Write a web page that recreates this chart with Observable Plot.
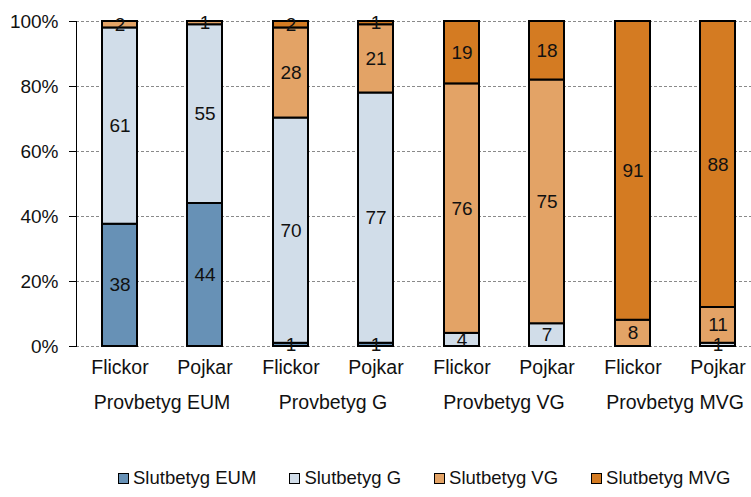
<!DOCTYPE html>
<html>
<head>
<meta charset="utf-8">
<script src="https://cdn.jsdelivr.net/npm/d3@7"></script>
<script src="https://cdn.jsdelivr.net/npm/@observablehq/plot@0.6"></script>
<style>
  html, body { margin: 0; padding: 0; background: #fff; overflow: hidden; }
  #wrap { position: relative; width: 751px; height: 497px; font-family: "Liberation Sans", Arial, sans-serif; }
  #legend { position: absolute; top: 467px; left: 118px; display: flex; gap: 33px; font-size: 18.5px; color: #111; }
  .item { display: flex; align-items: center; gap: 4px; white-space: nowrap; }
  .sw { width: 9px; height: 9px; border: 1.5px solid #000; }
</style>
</head>
<body>
<div id="wrap"><div id="chart"></div><div id="legend"></div></div>
<script>
const groups = ["Provbetyg EUM", "Provbetyg G", "Provbetyg VG", "Provbetyg MVG"];
const sexes = ["Flickor", "Pojkar"];
const series = ["Slutbetyg EUM", "Slutbetyg G", "Slutbetyg VG", "Slutbetyg MVG"];
const colors = ["#6791B6", "#D1DDE9", "#E3A366", "#D47B22"];
// values per bar, in order: EUM-F, EUM-P, G-F, G-P, VG-F, VG-P, MVG-F, MVG-P
const slutEUM = [38, 44, 1, 1, 0, 0, 0, 0];
const slutG   = [61, 55, 70, 77, 4, 7, 0, 1];
const slutVG  = [2, 1, 28, 21, 76, 75, 8, 11];
const slutMVG = [0, 0, 2, 1, 19, 18, 91, 88];
const yTicks = [0, 0.2, 0.4, 0.6, 0.8, 1];

const seriesValues = [slutEUM, slutG, slutVG, slutMVG];
const data = [];
groups.forEach((grp, gi) => sexes.forEach((sex, si) => {
  const idx = gi * 2 + si;
  series.forEach((s, k) => {
    const v = seriesValues[k][idx];
    if (v > 0) data.push({group: grp, sex, series: s, value: v});
  });
}));

const stackOpts = {fx: "group", x: "sex", y: "value", z: "series", offset: "normalize", order: series};

const chart = Plot.plot({
  width: 751,
  height: 432,
  marginLeft: 75,
  marginRight: -9.6,
  marginTop: 21,
  marginBottom: 86,
  style: {fontFamily: "'Liberation Sans', Arial, sans-serif", fontSize: "19px", color: "#111", background: "#fff", overflow: "visible"},
  fx: {domain: groups, padding: 0, axis: null, label: null},
  x: {domain: sexes, paddingInner: 0.59, paddingOuter: 0.295, label: null, axis: null},
  y: {domain: [0, 1], label: null, axis: null},
  color: {domain: series, range: colors},
  marks: [
    Plot.gridY(yTicks, {stroke: "#8a8a8a", strokeOpacity: 1, strokeDasharray: "3,2", strokeWidth: 1}),
    Plot.barY(data, Plot.stackY({...stackOpts, fill: "series", stroke: "#000", strokeWidth: 2})),
    Plot.text(data, Plot.stackY({...stackOpts, text: "value", fontSize: 19, fill: "#111"})),
    Plot.axisY(yTicks, {tickFormat: d3.format(".0%"), tickSize: 7, tickPadding: 11, fontSize: 19, stroke: "#000", label: null}),
    Plot.frame({anchor: "left", facetAnchor: "left", stroke: "#000"}),
    Plot.axisX({tickSize: 0, tickPadding: 14, fontSize: 19.5, label: null}),
    Plot.text(groups, {fx: d => d, text: d => d, frameAnchor: "bottom", lineAnchor: "top", dy: 49, fontSize: 19.5, fill: "#111"})
  ]
});
document.getElementById("chart").appendChild(chart);

const legend = document.getElementById("legend");
series.forEach((s, i) => {
  const it = document.createElement("div");
  it.className = "item";
  const sw = document.createElement("div");
  sw.className = "sw";
  sw.style.background = colors[i];
  const t = document.createElement("span");
  t.textContent = s;
  it.appendChild(sw); it.appendChild(t);
  legend.appendChild(it);
});
</script>
</body>
</html>
